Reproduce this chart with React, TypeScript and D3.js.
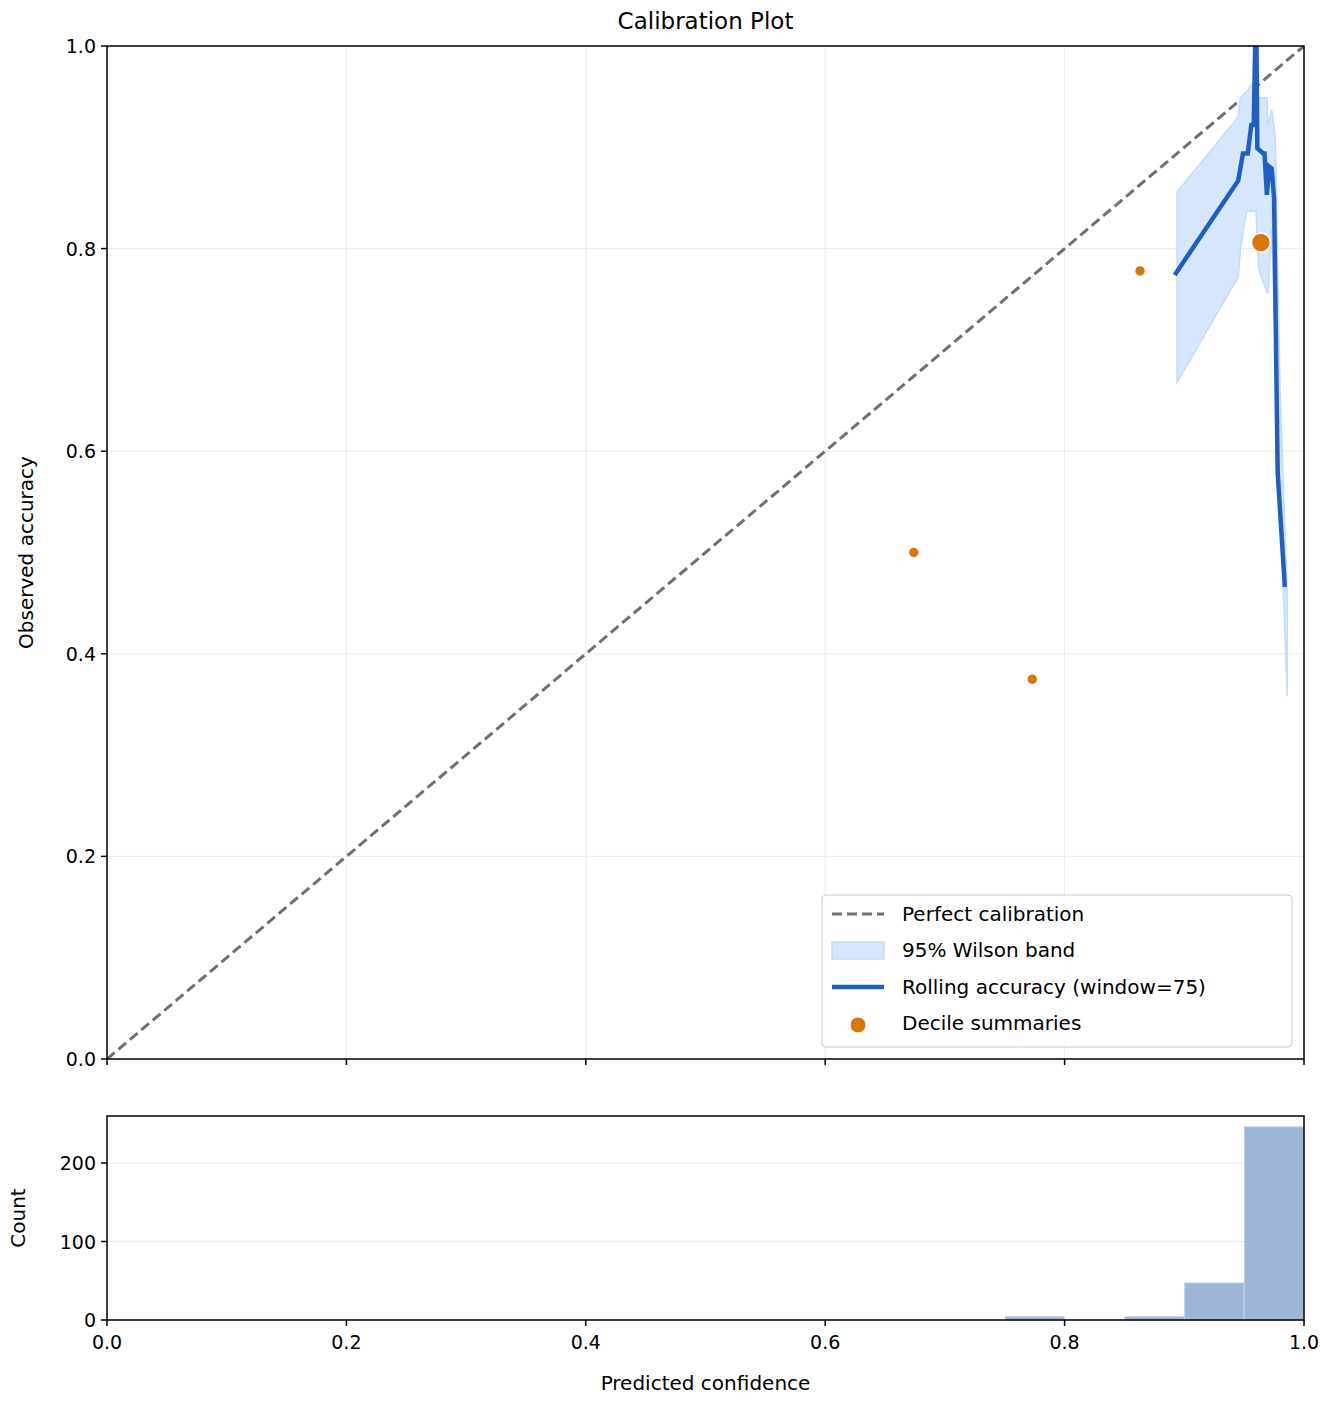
import { useEffect, useRef } from 'react';
import * as d3 from 'd3';

const rollX = [0.892, 0.945, 0.949, 0.953, 0.956, 0.958, 0.960, 0.960, 0.961, 0.966, 0.967, 0.969, 0.971, 0.973, 0.975, 0.978, 0.984];
const rollY = [0.774, 0.867, 0.894, 0.894, 0.922, 0.922, 1.05, 1.05, 0.899, 0.894, 0.894, 0.853, 0.881, 0.879, 0.850, 0.579, 0.466];

const bandX = [0.894, 0.945, 0.947, 0.952, 0.958, 0.960, 0.962, 0.969, 0.970, 0.973, 0.976, 0.980, 0.986];
const bandHi = [0.856, 0.930, 0.949, 0.955, 0.965, 0.955, 0.949, 0.949, 0.921, 0.937, 0.910, 0.660, 0.455];
const bandLo = [0.668, 0.772, 0.800, 0.837, 0.837, 0.837, 0.780, 0.757, 0.757, 0.820, 0.700, 0.550, 0.358];

const decX = [0.0, 0.674, 0.773, 0.863, 0.964];
const decY = [1.0, 0.5, 0.375, 0.778, 0.806];
const decR = [3, 5.5, 5.5, 5.5, 9.5];

const binStart = [0.75, 0.85, 0.9, 0.95];
const binCount = [4, 4, 47, 246];

const ticks = [0, 0.2, 0.4, 0.6, 0.8, 1.0];
const countTicks = [0, 100, 200];

export default function App() {
  const ref = useRef<SVGSVGElement>(null);

  useEffect(() => {
    const svg = d3.select(ref.current!);
    svg.selectAll('*').remove();
    const font = 'DejaVu Sans, sans-serif';
    const L = 107, R = 1304, T = 46, B = 1059, HT = 1116, HB = 1320;
    const x = d3.scaleLinear().domain([0, 1]).range([L, R]);
    const y = d3.scaleLinear().domain([0, 1]).range([B, T]);
    const yc = d3.scaleLinear().domain([0, 0]).range([HB, HT]);
    yc.domain([0, (HB - HT) / 0.785]);

    svg.append('rect').attr('width', 1332).attr('height', 1404).attr('fill', '#fff');
    const clip = svg.append('defs').append('clipPath').attr('id', 'c');
    clip.append('rect').attr('x', L).attr('y', T).attr('width', R - L).attr('height', B - T);

    // grid
    const grid = svg.append('g').attr('stroke', '#ebebeb').attr('stroke-width', 1);
    ticks.forEach(t => {
      grid.append('line').attr('x1', x(t)).attr('x2', x(t)).attr('y1', T).attr('y2', B);
      grid.append('line').attr('x1', L).attr('x2', R).attr('y1', y(t)).attr('y2', y(t));
    });
    countTicks.forEach(t => {
      grid.append('line').attr('x1', L).attr('x2', R).attr('y1', yc(t)).attr('y2', yc(t));
    });

    const g = svg.append('g').attr('clip-path', 'url(#c)');
    g.append('line').attr('x1', x(0)).attr('y1', y(0)).attr('x2', x(1)).attr('y2', y(1))
      .attr('stroke', '#707070').attr('stroke-width', 3).attr('stroke-dasharray', '10,5');

    const area = d3.area<number>().x((_, i) => x(bandX[i])).y0((_, i) => y(bandLo[i])).y1(d => y(d));
    g.append('path').attr('d', area(bandHi)).attr('fill', '#d6e7fd').attr('stroke', '#c3dafb').attr('stroke-width', 1.5);

    const line = d3.line<number>().x((_, i) => x(rollX[i])).y(d => y(d));
    g.append('path').attr('d', line(rollY)).attr('fill', 'none').attr('stroke', '#1f5fc4').attr('stroke-width', 4.5);

    decX.forEach((d, i) => {
      g.append('circle').attr('cx', x(d)).attr('cy', y(decY[i])).attr('r', decR[i])
        .attr('fill', '#d97706').attr('stroke', '#fff').attr('stroke-width', 1.5);
    });

    // histogram
    binStart.forEach((b, i) => {
      svg.append('rect').attr('x', x(b) + 0.5).attr('width', x(b + 0.05) - x(b) - 1)
        .attr('y', yc(binCount[i])).attr('height', yc(0) - yc(binCount[i]))
        .attr('fill', '#9db5d6').attr('stroke', '#b6c8e2').attr('stroke-width', 1);
    });

    // frames
    [[T, B], [HT, HB]].forEach(([a, b]) => {
      svg.append('rect').attr('x', L).attr('y', a).attr('width', R - L).attr('height', b - a)
        .attr('fill', 'none').attr('stroke', '#000').attr('stroke-width', 1.5);
    });

    const txt = (px: number, py: number, s: string, anchor = 'middle', size = 19) =>
      svg.append('text').attr('x', px).attr('y', py).attr('text-anchor', anchor)
        .attr('font-family', font).attr('font-size', size).attr('fill', '#000').text(s);

    ticks.forEach(t => {
      svg.append('line').attr('x1', L - 6).attr('x2', L).attr('y1', y(t)).attr('y2', y(t)).attr('stroke', '#000').attr('stroke-width', 1.5);
      txt(L - 11, y(t) + 7, t.toFixed(1), 'end');
      svg.append('line').attr('x1', x(t)).attr('x2', x(t)).attr('y1', B).attr('y2', B + 6).attr('stroke', '#000').attr('stroke-width', 1.5);
      svg.append('line').attr('x1', x(t)).attr('x2', x(t)).attr('y1', HB).attr('y2', HB + 6).attr('stroke', '#000').attr('stroke-width', 1.5);
      txt(x(t), HB + 29, t.toFixed(1));
    });
    countTicks.forEach(t => {
      svg.append('line').attr('x1', L - 6).attr('x2', L).attr('y1', yc(t)).attr('y2', yc(t)).attr('stroke', '#000').attr('stroke-width', 1.5);
      txt(L - 11, yc(t) + 7, String(t), 'end');
    });

    txt((L + R) / 2, 29, 'Calibration Plot', 'middle', 23);
    txt((L + R) / 2, 1390, 'Predicted confidence', 'middle', 20);
    txt(0, 0, 'Observed accuracy', 'middle', 20).attr('transform', `translate(33,${(T + B) / 2}) rotate(-90)`);
    txt(0, 0, 'Count', 'middle', 20).attr('transform', `translate(25,${(HT + HB) / 2}) rotate(-90)`);

    // legend
    const lg = svg.append('g');
    lg.append('rect').attr('x', 822).attr('y', 895).attr('width', 470).attr('height', 152).attr('rx', 4)
      .attr('fill', '#fff').attr('fill-opacity', 0.8).attr('stroke', '#ccc');
    const rows = [914, 950, 987, 1023];
    lg.append('line').attr('x1', 832).attr('x2', 884).attr('y1', rows[0]).attr('y2', rows[0])
      .attr('stroke', '#707070').attr('stroke-width', 3).attr('stroke-dasharray', '10,5');
    lg.append('rect').attr('x', 832).attr('y', rows[1] - 8).attr('width', 52).attr('height', 17)
      .attr('fill', '#d6e7fd').attr('stroke', '#c3dafb').attr('stroke-width', 1.5);
    lg.append('line').attr('x1', 832).attr('x2', 884).attr('y1', rows[2]).attr('y2', rows[2])
      .attr('stroke', '#1f5fc4').attr('stroke-width', 4.5);
    lg.append('circle').attr('cx', 858).attr('cy', rows[3] + 2).attr('r', 8).attr('fill', '#d97706').attr('stroke', '#fff');
    ['Perfect calibration', '95% Wilson band', 'Rolling accuracy (window=75)', 'Decile summaries'].forEach((s, i) => {
      txt(902, rows[i] + 7, s, 'start', 20);
    });
  }, []);

  return <svg ref={ref} width={1332} height={1404} style={{ display: 'block', margin: -8 }} />;
}
